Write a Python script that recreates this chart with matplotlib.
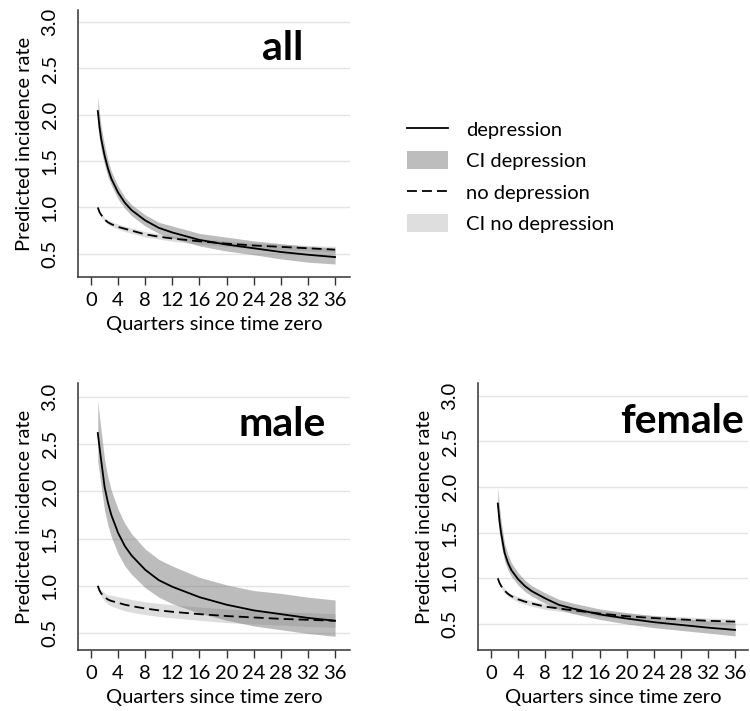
import numpy as np
import matplotlib
matplotlib.use("Agg")
import matplotlib.pyplot as plt
from matplotlib.lines import Line2D
from matplotlib.patches import Patch

plt.rcParams["font.family"] = ["Lato", "DejaVu Sans"]

# quarters at which the predictions are evaluated
quarters = [1, 1.25, 1.5, 2, 2.5, 3, 4, 5, 6, 8, 10, 12, 16, 20, 24, 28, 32, 36]

# all
all_dep = [2.04, 1.87, 1.74, 1.56, 1.42, 1.31, 1.16, 1.05, 0.97, 0.86, 0.78, 0.73,
           0.65, 0.60, 0.56, 0.52, 0.49, 0.465]
all_dep_lo = [1.89, 1.73, 1.62, 1.46, 1.33, 1.24, 1.09, 0.99, 0.91, 0.80, 0.72, 0.67,
              0.585, 0.53, 0.49, 0.445, 0.41, 0.39]
all_dep_hi = [2.20, 2.02, 1.87, 1.67, 1.51, 1.39, 1.23, 1.11, 1.03, 0.92, 0.84, 0.80,
              0.72, 0.68, 0.64, 0.61, 0.58, 0.56]
all_nodep = [1.0, 0.95, 0.92, 0.87, 0.84, 0.82, 0.79, 0.77, 0.75, 0.71, 0.685, 0.665,
             0.635, 0.61, 0.59, 0.575, 0.56, 0.545]
all_nodep_lo = [0.99, 0.935, 0.90, 0.85, 0.815, 0.795, 0.765, 0.74, 0.72, 0.68, 0.66, 0.635,
                0.605, 0.58, 0.56, 0.545, 0.53, 0.515]
all_nodep_hi = [1.01, 0.965, 0.94, 0.89, 0.865, 0.845, 0.82, 0.80, 0.78, 0.74, 0.715, 0.695,
                0.665, 0.64, 0.62, 0.605, 0.59, 0.58]

# male
male_dep = [2.62, 2.47, 2.33, 2.05, 1.88, 1.75, 1.56, 1.42, 1.32, 1.17, 1.06, 0.99,
            0.88, 0.80, 0.74, 0.70, 0.66, 0.63]
male_dep_lo = [2.32, 2.19, 2.05, 1.80, 1.64, 1.52, 1.34, 1.21, 1.12, 0.98, 0.88, 0.81,
               0.71, 0.635, 0.575, 0.535, 0.495, 0.465]
male_dep_hi = [2.96, 2.79, 2.64, 2.34, 2.15, 2.01, 1.81, 1.66, 1.55, 1.39, 1.28, 1.21,
               1.09, 1.01, 0.95, 0.92, 0.88, 0.85]
male_nodep = [1.0, 0.95, 0.92, 0.88, 0.855, 0.84, 0.82, 0.80, 0.785, 0.76, 0.74, 0.725,
              0.70, 0.68, 0.665, 0.65, 0.64, 0.63]
male_nodep_lo = [0.98, 0.92, 0.885, 0.84, 0.805, 0.785, 0.76, 0.735, 0.72, 0.695, 0.675, 0.66,
                 0.635, 0.61, 0.595, 0.585, 0.57, 0.56]
male_nodep_hi = [1.02, 0.98, 0.955, 0.925, 0.905, 0.90, 0.885, 0.87, 0.855, 0.83, 0.815, 0.80,
                 0.775, 0.755, 0.74, 0.725, 0.715, 0.705]

# female
female_dep = [1.82, 1.63, 1.49, 1.28, 1.17, 1.09, 0.99, 0.915, 0.86, 0.78, 0.71, 0.67,
              0.605, 0.56, 0.52, 0.49, 0.46, 0.435]
female_dep_lo = [1.65, 1.50, 1.37, 1.19, 1.09, 1.02, 0.925, 0.855, 0.805, 0.725, 0.66, 0.615,
                 0.55, 0.50, 0.46, 0.43, 0.40, 0.37]
female_dep_hi = [2.00, 1.78, 1.62, 1.38, 1.26, 1.17, 1.06, 0.98, 0.92, 0.84, 0.77, 0.73,
                 0.665, 0.625, 0.59, 0.56, 0.535, 0.51]
female_nodep = [1.0, 0.95, 0.915, 0.865, 0.83, 0.805, 0.77, 0.745, 0.725, 0.69, 0.67, 0.65,
                0.615, 0.585, 0.565, 0.55, 0.535, 0.525]
female_nodep_lo = [0.99, 0.935, 0.895, 0.84, 0.805, 0.78, 0.74, 0.715, 0.695, 0.66, 0.64, 0.62,
                   0.585, 0.555, 0.535, 0.52, 0.505, 0.495]
female_nodep_hi = [1.01, 0.965, 0.935, 0.89, 0.855, 0.83, 0.80, 0.775, 0.755, 0.72, 0.70, 0.68,
                   0.645, 0.615, 0.595, 0.58, 0.565, 0.555]

x_ticks = list(range(0, 37, 4))
y_ticks = [0.5, 1.0, 1.5, 2.0, 2.5, 3.0]

DARK_CI = "#7a7a7a"
LIGHT_CI = "#bcbcbc"
DASH = (0, (5.5, 2.8))
FS = 14.5


def draw_panel(ax, dep, dep_lo, dep_hi, nodep, nodep_lo, nodep_hi, title, ylim, xlim):
    ax.set_axisbelow(True)
    ax.grid(axis="y", color="#e4e4e4", linewidth=1.0)
    ax.fill_between(quarters, nodep_lo, nodep_hi, color=LIGHT_CI, alpha=0.5, linewidth=0)
    ax.fill_between(quarters, dep_lo, dep_hi, color=DARK_CI, alpha=0.5, linewidth=0)
    ax.plot(quarters, dep, color="black", linewidth=1.3)
    ax.plot(quarters, nodep, color="black", linewidth=1.3, linestyle=DASH)

    ax.set_xlim(*xlim)
    ax.set_ylim(*ylim)
    ax.set_xticks(x_ticks)
    ax.set_yticks(y_ticks)
    ax.set_yticklabels([f"{v:.1f}" for v in y_ticks], rotation=90, va="center")
    ax.tick_params(axis="x", length=6, width=1.0, color="#333333", labelsize=FS, pad=5)
    ax.tick_params(axis="y", length=0, labelsize=FS, pad=14)
    for side in ("top", "right"):
        ax.spines[side].set_visible(False)
    for side in ("left", "bottom"):
        ax.spines[side].set_color("#333333")
        ax.spines[side].set_linewidth(1.1)

    ax.set_xlabel("Quarters since time zero", fontsize=FS, labelpad=5)
    ax.set_ylabel("Predicted incidence rate", fontsize=FS, labelpad=6)
    ax.text(28.2, 2.59, title, fontsize=29.5, fontweight="bold",
            ha="center", va="baseline")


fig = plt.figure(figsize=(7.5, 7.11), dpi=100)

ax_all = fig.add_axes([78 / 750, 1 - 277 / 711, 272 / 750, 267 / 711])
ax_male = fig.add_axes([78 / 750, 1 - 650 / 711, 272 / 750, 267 / 711])
ax_female = fig.add_axes([478 / 750, 1 - 650 / 711, 270 / 750, 267 / 711])

draw_panel(ax_all, all_dep, all_dep_lo, all_dep_hi,
           all_nodep, all_nodep_lo, all_nodep_hi, "all", (0.25, 3.13), (-1.92, 38.2))
draw_panel(ax_male, male_dep, male_dep_lo, male_dep_hi,
           male_nodep, male_nodep_lo, male_nodep_hi, "male", (0.32, 3.15), (-1.92, 38.2))
draw_panel(ax_female, female_dep, female_dep_lo, female_dep_hi,
           female_nodep, female_nodep_lo, female_nodep_hi, "female", (0.215, 3.14), (-1.92, 37.9))

handles = [
    Line2D([], [], color="black", linewidth=1.3),
    Patch(facecolor="#bdbdbd", edgecolor="none"),
    Line2D([], [], color="black", linewidth=1.3, linestyle=(0, (5.5, 2.8))),
    Patch(facecolor="#dedede", edgecolor="none"),
]
labels = ["depression", "CI depression", "no depression", "CI no depression"]
fig.legend(handles, labels, loc="upper left", bbox_to_anchor=(407 / 750, 1 - 120 / 711),
           frameon=False, fontsize=FS, handlelength=2.05, handleheight=1.0,
           handletextpad=0.9, labelspacing=0.62, borderpad=0, borderaxespad=0)

fig.savefig("out.png", dpi=100)
